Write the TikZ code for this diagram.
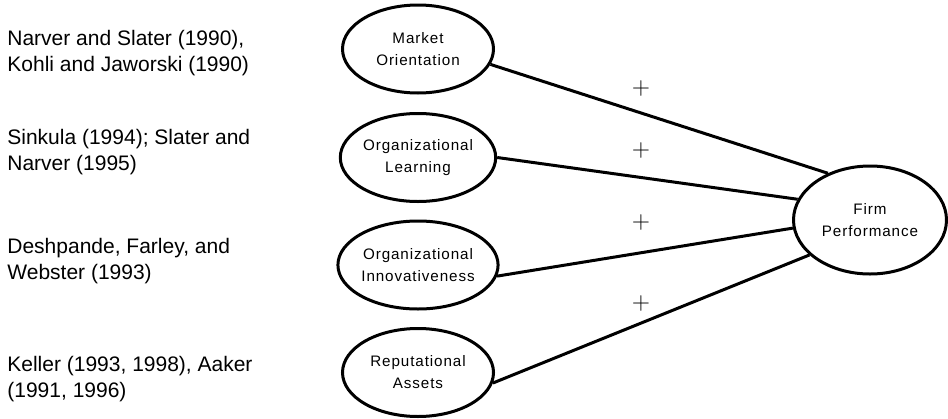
\documentclass[tikz,border=0pt]{standalone}
\usepackage{fontspec}
\setmainfont{Liberation Sans}
\newfontfamily\ovalfont[LetterSpace=6]{Liberation Sans}
\usetikzlibrary{shapes, arrows.meta, positioning}

\begin{document}
\begin{tikzpicture}[x=0.5pt,y=-0.5pt]
    \tikzstyle{every node} = [font=\fontsize{10.5}{13}\selectfont]
    \tikzstyle{construct} = [draw, ellipse, line width=1.5pt, inner sep=0pt, align=center, minimum width=75.5pt, minimum height=44pt, font=\ovalfont\fontsize{7.6}{11}\selectfont]
    \tikzstyle{source} = [anchor=west, align=left, inner sep=0pt]
    \tikzstyle{link} = [line width=1.5pt]
    \tikzstyle{sign} = [inner sep=0pt, font=\fontsize{12}{13}\selectfont]
    \useasboundingbox (0,0) rectangle (948,418);
    % place nodes
    \node[construct](marketOr) at (418,49){Market\\Orientation};
    \node[construct](orgLearn) at (418,157.5){Organizational\\Learning};
    \node[construct](orgInnov) at (418,265){Organizational\\Innovativeness};
    \node[construct](repAssets) at (418,372.5){Reputational\\Assets};
    \node[construct,minimum width=76.5pt,minimum height=54pt](firmPerf) at (870,220){Firm\\Performance};
    % sources
    \node[source](marketSrc) at (7,53){Narver and Slater (1990),\\Kohli and Jaworski (1990)};
    \node[source](learnSrc) at (7,152){Sinkula (1994); Slater and\\Narver (1995)};
    \node[source](innovSrc) at (7,261){Deshpande, Farley, and\\Webster (1993)};
    \node[source](repSrc) at (7,379){Keller (1993, 1998), Aaker\\(1991, 1996)};
    % Connections
    \draw[link] (marketOr.-12)--(firmPerf.132);
    \draw[link] (orgLearn.0)--(firmPerf.164);
    \draw[link] (orgInnov.-8)--(firmPerf.186);
    \draw[link] (repAssets.-8)--(firmPerf.210);
    % signs
    \node[sign](marketSign) at (641,88){$+$};
    \node[sign](learnSign) at (641,150){$+$};
    \node[sign](innovSign) at (641,222){$+$};
    \node[sign](repSign) at (641,303){$+$};
  \end{tikzpicture}
\end{document}
